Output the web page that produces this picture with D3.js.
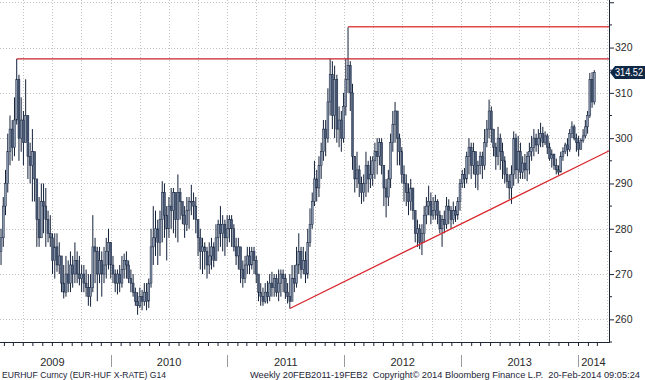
<!DOCTYPE html>
<html><head><meta charset="utf-8">
<script src="https://cdn.jsdelivr.net/npm/d3@7"></script>
<style>
body{margin:0;background:#fff;}
svg{display:block;font-family:"Liberation Sans",Arial,sans-serif;}
</style>
</head><body>
<svg id="chart" width="645" height="380"></svg>
<script>
// ---------- DATA (weekly EURHUF candles) ----------
const firstWeek = "2009-01-23";
const firstOpen = 275;
const closes = [278,285,290,297,302,298,304,313,300,304,299,305,296,294,297,291,282,278,286,285,282,279,278,273,276,272,274,268,266,270,268,272,270,273,270,269,270,268,267,265,267,276,275,270,273,
270,272,275,277,272,270,268,270,268,271,273,272,269,268,266,264,263,265,264,266,264,268,276,278,280,277,282,288,283,280,285,284,288,282,288,286,283,281,284,286,286,285,282,278,275,276,275,
272,274,276,273,278,281,279,281,278,280,282,280,276,274,276,271,269,272,274,272,275,273,270,266,265,264,266,265,268,267,269,266,268,270,269,266,265,264,269,268,272,275,271,
273,270,277,281,286,291,289,294,297,302,300,308,314,305,313,302,304,300,307,313,316,310,296,291,293,290,288,290,294,291,292,295,297,296,299,294,289,287,291,299,303,306,300,297,292,290,
288,286,289,284,279,280,277,279,283,285,286,283,284,286,283,280,282,281,285,284,282,284,283,286,290,292,291,296,298,294,297,292,294,296,294,299,302,306,302,298,296,300,297,295,
292,290.5,289,292,300,293,297,292.5,294.5,293,296,297,298,300,298.5,300,301,299,300.5,298,295.5,296.5,294,293,292.5,296,297,298.5,297.5,301,302.5,300,299,297.5,299.5,300.5,302.5,305,313,308,314.52];
const highs = [280,287,293,301,305,304,309,317.5,314,309,306,313,301,299,302,295,289,287,290,290,289,284,283,279,279,279,277,274,272,274,273,275,274,277,275,274,272,272,271,270,270,283,278,276,276,
275,276,278,280,276,274,271,271,272,274,274.5,275,273,271,270,267,266,267,266.5,268,268,269,280,285,284,282,284,290.5,290,285,287,289,289,287,292,289,286,285,287,287,289.7,288,287,282,280,278,277,
276,277,278,277,281,282,285,283,282,283,283,283,281,278,278,275,273,274,276,276,276,276,274,270,268,267,268,268.5,270,270.5,270,270,271,271,271,270,268,270,272,272,276,279,276,
276,275,280,284.5,288,295,293,296,299,304,304,311,317.5,317,316,314,307,306,310,317.5,324.5,317,312,296,297,294,291.5,292,297,295,296,296,299,300,300,300,293,291,293,301,306,308,305,301,298,294,
292,290,291,289,284,282,281,281,285,287,289.5,288,287,287.5,286.5,284,283,284,287,286.5,285,286,285,287,291,293,293.4,297,300,299,299,297,295,297,297,302,304,308.5,307,302,299,302.5,301,299,
296,293.5,292,294,301.5,301,300.5,299,296,296.5,297,299,300.5,302,301,302,303.4,302.5,301.5,301,299,297.5,296.5,295.5,294,297,298,299,300,302,303.7,303,301,300.5,300,302,304,306,314.4,314.6,315];
const lows = [272,276,283,288,294,295,296,303,295,297,294,300,291,290,286,286,276,276,278,279,276,277,276,270,269,270.5,270,266,264.6,265,266,266,267,268,268,267.5,266,266,265,263,262.8,266,268,264,268,
265,268,269,271,269,268,266,265.5,266,267,269,269,268,266,265,263,261,262.5,262,263,262,262.5,267,272,274,272,274,277,278,273,278,280,279,278,277,282,281,278,279.5,280,283,282,279,274,271,270,271,
269,270,271,271.5,273,275,276,275,274,276,277,276,275,272,271,268,267,268,270,270,271,270,268,264,263,263,263.5,263.5,264,265,265,265,264,265,266,264.5,263.5,262.4,264,266,267,270,269,
270,268,269,276,280,285,286,287,291,295,296,299,305,302,300,299,298,297,299,305,310,306,293,288,289,287,285.5,286,287,288,289,289.5,291,292,294,292,285,282.5,285,289,297,299,294,294,290,286,
285,283,284,282,277,276,275.5,274.2,277,281,283,281,282,282,281,279,276,279,280,281,280,281,281.5,282,284,289,289,290,292,291,292,289,288.5,292,291,293,298,300,299,296,293,294,293,291,
290,289,286.5,285.5,289.5,291,290,291,291,291,290.5,292,295,296,297,296.5,298,298,298.5,296.5,295,293.5,293,292,291.9,293,295,296.5,296,297,300,299.5,297,296,297.5,299,300,301,304.5,306.7,307.4];
const yTicks = [260,270,280,290,300,310,320,330];
const yMinorTicks = [255,265,275,285,295,305,315,325];
const yearLabels = ["2009","2010","2011","2012","2013","2014"];
const resistanceLevels = [317.5, 324.6];
const resistanceStartWeek = [7, 155];
const trendDates = ["2011-07-15","2014-04-11"];
const trendValues = [262.4, 297.3];
const lastPrice = 314.52;
const footerLeft = "EURHUF Curncy (EUR-HUF X-RATE) G14";
const footerRight = "Weekly 20FEB2011-19FEB2  Copyright\u00A9 2014 Bloomberg Finance L.P.  20-Feb-2014 09:05:24";

// ---------- LAYOUT ----------
const plotRight = 609, plotBottom = 342;
const svg = d3.select("#chart");
const parse = d3.timeParse("%Y-%m-%d");
const t0 = parse(firstWeek);
const dates = closes.map((_, i) => d3.timeDay.offset(t0, 7 * i));

const x = d3.scaleTime()
  .domain([new Date(2009, 0, 1), new Date(2014, 0, 1)])
  .range([-6, 578]);
const y = d3.scaleLinear().domain([255, 330.5]).range([plotBottom, 0]);

svg.append("defs").append("clipPath").attr("id", "clip")
  .append("rect").attr("x", 0).attr("y", 0).attr("width", plotRight).attr("height", plotBottom);

// gridlines
const grid = svg.append("g").attr("stroke", "#c4c4c4").attr("stroke-dasharray", "1,2").attr("stroke-width", 1);
grid.selectAll("line.h").data(yTicks).join("line")
  .attr("x1", 0).attr("x2", plotRight)
  .attr("y1", d => Math.round(y(d)) + 0.5).attr("y2", d => Math.round(y(d)) + 0.5);
const qTicks = d3.timeMonth.every(3).range(new Date(2008, 9, 1), new Date(2014, 6, 1))
  .filter(d => x(d) > 0 && x(d) < plotRight - 2);
grid.selectAll("line.v").data(qTicks).join("line")
  .attr("y1", 0).attr("y2", plotBottom)
  .attr("x1", d => Math.round(x(d)) + 0.5).attr("x2", d => Math.round(x(d)) + 0.5);

// candles
const candles = closes.map((c, i) => {
  const o = i === 0 ? firstOpen : closes[i - 1];
  return { date: dates[i], o, c, h: Math.max(highs[i], o, c), l: Math.min(lows[i], o, c) };
});
const cg = svg.append("g").attr("clip-path", "url(#clip)");
const bw = 1.9;
cg.selectAll("line.wick").data(candles).join("line")
  .attr("x1", d => x(d.date)).attr("x2", d => x(d.date))
  .attr("y1", d => y(d.h)).attr("y2", d => y(d.l))
  .attr("stroke", "#13213a").attr("stroke-width", 1);
cg.selectAll("rect.body").data(candles).join("rect")
  .attr("x", d => x(d.date) - bw / 2).attr("width", bw)
  .attr("y", d => y(Math.max(d.o, d.c)))
  .attr("height", d => Math.max(0.8, Math.abs(y(d.o) - y(d.c))))
  .attr("fill", d => d.c >= d.o ? "#8c9ab0" : "#4d5d78")
  .attr("stroke", "#172540").attr("stroke-width", 0.5);

// red resistance + trend lines
const rg = svg.append("g").attr("clip-path", "url(#clip)");
rg.selectAll("line.res").data(resistanceLevels).join("line")
  .attr("x1", (d, i) => x(dates[resistanceStartWeek[i]]))
  .attr("x2", plotRight)
  .attr("y1", d => y(d)).attr("y2", d => y(d))
  .attr("stroke", (d, i) => i === 0 ? "#c8202a" : "#de4a4a")
  .attr("stroke-width", (d, i) => i === 0 ? 1.3 : 1.6);
rg.append("line")
  .attr("x1", x(parse(trendDates[0]))).attr("y1", y(trendValues[0]))
  .attr("x2", x(parse(trendDates[1]))).attr("y2", y(trendValues[1]))
  .attr("stroke", "#d8262c").attr("stroke-width", 1.3);

// right axis
const yAxis = svg.append("g").attr("transform", `translate(${plotRight},0)`)
  .call(d3.axisRight(y).tickValues(yTicks).tickSize(5)
    .tickFormat(d => d === 330 ? "" : d3.format("d")(d)));
yAxis.select(".domain").attr("stroke", "#1b2535").attr("d", `M0.5,0V${plotBottom}`);
yAxis.selectAll(".tick line").attr("stroke", "#1b2535");
yAxis.selectAll(".tick text").attr("x", 6).attr("fill", "#2a2a2a")
  .attr("font-size", "10.5px").attr("font-family", "Liberation Sans, Arial, sans-serif");
svg.append("g").attr("transform", `translate(${plotRight},0)`)
  .selectAll("line").data(yMinorTicks).join("line")
  .attr("x1", 0).attr("x2", 3).attr("y1", d => y(d)).attr("y2", d => y(d))
  .attr("stroke", "#1b2535");

// bottom axis
const xAxis = svg.append("g").attr("transform", `translate(0,${plotBottom})`)
  .call(d3.axisBottom(x).tickValues(
      d3.timeMonth.range(new Date(2008, 11, 1), new Date(2014, 3, 1)).filter(d => x(d) >= 0 && x(d) <= plotRight))
    .tickSize(4).tickFormat(""));
xAxis.select(".domain").attr("stroke", "#1b2535").attr("d", `M0,0.5H${plotRight + 1}`);
xAxis.selectAll(".tick line").attr("stroke", "#1b2535");

// year separators & labels
const yearStarts = yearLabels.map(s => new Date(+s, 0, 1));
svg.selectAll("line.ysep").data(yearStarts.slice(1)).join("line")
  .attr("x1", d => Math.round(x(d)) + 0.5).attr("x2", d => Math.round(x(d)) + 0.5)
  .attr("y1", 355).attr("y2", 367).attr("stroke", "#9a9a9a");
svg.selectAll("text.year").data(yearLabels).join("text")
  .attr("x", (s, i) => (x(yearStarts[i]) + Math.min(plotRight, x(new Date(+s + 1, 0, 1)))) / 2)
  .attr("y", 365.5).attr("text-anchor", "middle")
  .attr("font-size", "11px").attr("fill", "#2a2a2a").text(s => s);

// last price tag
const ly = y(lastPrice);
svg.append("path")
  .attr("d", `M610,${ly} L615,${ly - 6.5} H645 V${ly + 6.5} H615 Z`)
  .attr("fill", "#0f2846");
svg.append("text").attr("x", 615).attr("y", ly + 3.8).attr("fill", "#fff")
  .attr("font-size", "10px")
  .attr("textLength", 28).attr("lengthAdjust", "spacingAndGlyphs")
  .text(d3.format(".2f")(lastPrice));

// footer
svg.append("text").attr("x", 2).attr("y", 377.5).attr("font-size", "9.5px").attr("fill", "#1c2538")
  .attr("textLength", 164).attr("lengthAdjust", "spacingAndGlyphs").text(footerLeft);
svg.append("text").attr("x", 250).attr("y", 377.5).attr("font-size", "9px").attr("fill", "#1c2538")
  .style("white-space", "pre")
  .attr("textLength", 390).attr("lengthAdjust", "spacingAndGlyphs").text(footerRight);
</script>
</body></html>
